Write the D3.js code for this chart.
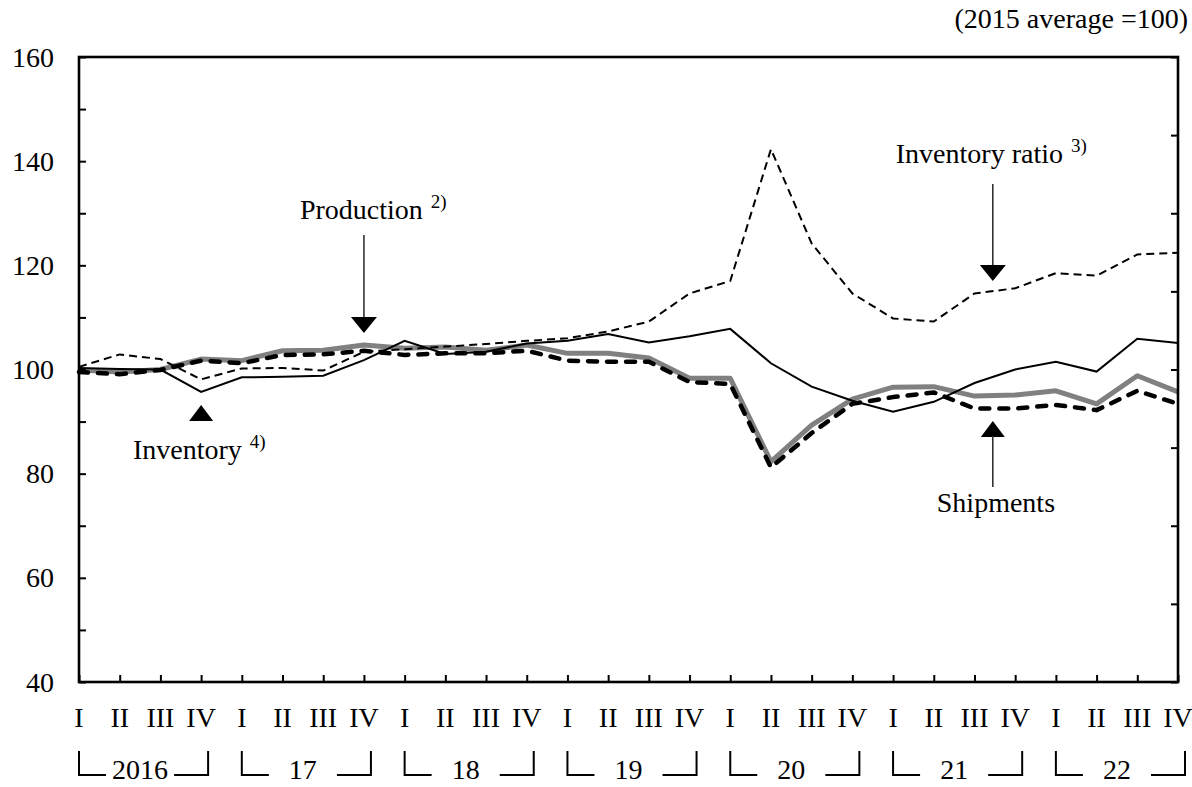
<!DOCTYPE html>
<html>
<head>
<meta charset="utf-8">
<script src="https://cdn.jsdelivr.net/npm/d3@7"></script>
<style>
  html, body { margin: 0; padding: 0; background: #fff; }
  svg { display: block; }
  text { font-family: "Liberation Serif", "Times New Roman", serif; fill: #000; }
</style>
</head>
<body>
<svg id="chart" width="1192" height="787"></svg>
<script>
// ---- data ----
const quarterLabels = ["I", "II", "III", "IV"];
const yearLabels = ["2016", "17", "18", "19", "20", "21", "22"];
const yTickValues = [40, 60, 80, 100, 120, 140, 160];

const production = [99.9, 99.5, 100.0, 102.0, 101.7, 103.6, 103.7, 104.7, 104.1, 104.3, 103.7, 104.7, 103.1, 103.1, 102.2, 98.3, 98.3, 82.3, 89.3, 94.3, 96.6, 96.7, 94.9, 95.1, 95.9, 93.4, 98.8, 95.7];
const shipments = [99.5, 99.1, 99.9, 101.7, 101.2, 102.8, 102.9, 103.6, 102.8, 103.1, 103.1, 103.6, 101.7, 101.5, 101.5, 97.6, 97.2, 81.2, 87.8, 93.4, 94.7, 95.6, 92.5, 92.5, 93.2, 92.2, 95.9, 93.4];
const inventory = [100.3, 100.1, 100.0, 95.7, 98.5, 98.6, 98.8, 101.8, 105.5, 103.0, 103.4, 105.0, 105.5, 106.8, 105.2, 106.4, 107.8, 101.2, 96.7, 94.0, 91.9, 93.8, 97.4, 100.0, 101.5, 99.6, 105.9, 105.1];
const inventoryRatio = [100.5, 102.9, 102.0, 98.1, 100.2, 100.3, 99.8, 103.4, 103.9, 104.4, 104.9, 105.5, 106.0, 107.3, 109.2, 114.6, 117.0, 142.3, 124.2, 114.6, 109.8, 109.2, 114.6, 115.6, 118.5, 118.0, 122.1, 122.4];

(function () {
// ---- layout ----
const svg = d3.select("#chart");
const W = 1192, H = 787;
const mLeft = 79, mRight = 1178, mTop = 57, mBottom = 682;
const n = production.length;
const FONT = 28;

const x = d3.scaleLinear().domain([0, n - 1]).range([mLeft, mRight]);
const y = d3.scaleLinear().domain([40, 160]).range([mBottom, mTop]);
const yRight = d3.scaleLinear().domain([0, 8]).range([mBottom, mTop]);

svg.append("rect").attr("width", W).attr("height", H).attr("fill", "#fff");

// ---- lines ----
const line = d3.line().x((d, i) => x(i)).y(d => y(d));

svg.append("path").datum(production).attr("d", line)
  .attr("fill", "none").attr("stroke", "#808080").attr("stroke-width", 5)
  .attr("stroke-linejoin", "round");
svg.append("path").datum(shipments).attr("d", line)
  .attr("fill", "none").attr("stroke", "#000").attr("stroke-width", 4.5)
  .attr("stroke-dasharray", "9,10").attr("stroke-linecap", "round")
  .attr("stroke-linejoin", "round");
svg.append("path").datum(inventoryRatio).attr("d", line)
  .attr("fill", "none").attr("stroke", "#000").attr("stroke-width", 2)
  .attr("stroke-dasharray", "8,5");
svg.append("path").datum(inventory).attr("d", line)
  .attr("fill", "none").attr("stroke", "#000").attr("stroke-width", 2);

// ---- axes ----
const yAxisG = svg.append("g").attr("transform", `translate(${mLeft},0)`)
  .call(d3.axisRight(y).tickValues(d3.range(40, 161, 10)).tickSize(7).tickFormat(""));
const xAxisG = svg.append("g").attr("transform", `translate(0,${mBottom})`)
  .call(d3.axisTop(x).tickValues(d3.range(0, n)).tickSize(7).tickFormat(""));
const rAxisG = svg.append("g").attr("transform", `translate(${mRight},0)`)
  .call(d3.axisLeft(yRight).tickValues(d3.range(0, 9)).tickSize(7).tickFormat(""));
[yAxisG, xAxisG, rAxisG].forEach(g => {
  g.select(".domain").remove();
  g.selectAll("line").attr("stroke", "#000").attr("stroke-width", 2);
});

// frame
svg.append("rect").attr("x", mLeft).attr("y", mTop)
  .attr("width", mRight - mLeft).attr("height", mBottom - mTop)
  .attr("fill", "none").attr("stroke", "#000").attr("stroke-width", 2.6);

// y labels
svg.selectAll(".ylab").data(yTickValues).enter().append("text")
  .attr("x", 54).attr("y", d => y(d))
  .attr("text-anchor", "end").attr("dominant-baseline", "central")
  .attr("font-size", FONT).text(d => d);

// quarter labels
svg.selectAll(".qlab").data(d3.range(n)).enter().append("text")
  .attr("x", i => x(i)).attr("y", 727)
  .attr("text-anchor", "middle").attr("font-size", FONT)
  .text(i => quarterLabels[i % 4]);

// year labels + brackets
yearLabels.forEach((lab, k) => {
  const x0 = x(k * 4), x1 = x(k * 4 + 3);
  svg.append("text").attr("x", (x0 + x1) / 2).attr("y", 779)
    .attr("text-anchor", "middle").attr("font-size", FONT).text(lab);
  svg.append("path")
    .attr("d", `M${x0},751 V775 H${x0 + 27}`)
    .attr("fill", "none").attr("stroke", "#000").attr("stroke-width", 2);
  svg.append("path")
    .attr("d", `M${x1 + 7},751 V775 H${x1 + 7 - 34}`)
    .attr("fill", "none").attr("stroke", "#000").attr("stroke-width", 2);
});

// unit note
svg.append("text").attr("x", 1188).attr("y", 28).attr("text-anchor", "end")
  .attr("font-size", FONT).text("(2015 average =100)");

// ---- annotations ----
function label(xs, ys, main, sup) {
  const t = svg.append("text").attr("x", xs).attr("y", ys).attr("font-size", FONT);
  t.append("tspan").text(main);
  if (sup) t.append("tspan").attr("font-size", 19).attr("dx", 8).attr("dy", -11).text(sup);
}
function triDown(cx, tipY) {
  svg.append("path").attr("d", `M${cx - 13},${tipY - 16} L${cx + 13},${tipY - 16} L${cx},${tipY} Z`).attr("fill", "#000");
}
function triUp(cx, tipY) {
  svg.append("path").attr("d", `M${cx - 12},${tipY + 16} L${cx + 12},${tipY + 16} L${cx},${tipY} Z`).attr("fill", "#000");
}
function stem(cx, y0, y1) {
  svg.append("line").attr("x1", cx).attr("x2", cx).attr("y1", y0).attr("y2", y1)
    .attr("stroke", "#333").attr("stroke-width", 1.6);
}

// Production
const px = x(7);
label(px - 64, 219, "Production", "2)");
stem(px, 235, 320);
triDown(px, y(107));

// Inventory ratio
const rx = x(22.45);
label(rx - 97, 163, "Inventory  ratio", "3)");
stem(rx, 184, 268);
triDown(rx, y(117));

// Inventory
triUp(x(3), y(93.2));
label(133, 459, "Inventory", "4)");

// Shipments
const sx = x(22.45);
triUp(sx, y(90.1));
stem(sx, y(90.1) + 15, 487);
label(sx - 56, 512, "Shipments", null);
})();
</script>
</body>
</html>
